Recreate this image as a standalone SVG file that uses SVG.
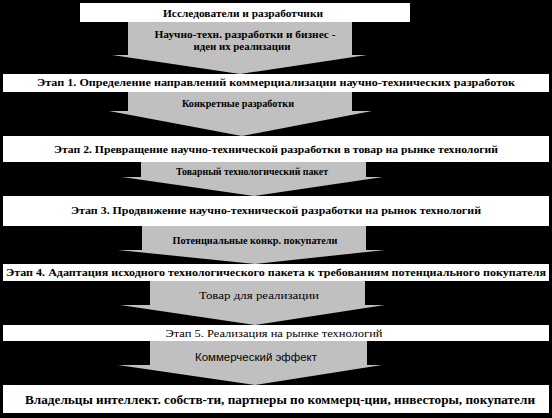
<svg xmlns="http://www.w3.org/2000/svg" width="552" height="418" viewBox="0 0 552 418" font-family="Liberation Serif, Times New Roman, DejaVu Serif, serif">
<style>
.box{fill:#ffffff}
.arr{fill:#c0c0c0}
.t{font-weight:bold;font-size:10px;fill:#000;text-anchor:middle}
.n{font-weight:normal}
.big{font-size:12px}
</style>
<rect x="0" y="0" width="552" height="418" fill="#000"/>
<g id="connectors">
<g id="a1"><polygon class="arr" points="128,22 352,22 352,55 367,55 240,74 112,55 128,55"/>
<text class="t" x="245" y="38" textLength="181" lengthAdjust="spacingAndGlyphs">Научно-техн. разработки и бизнес -</text>
<text class="t" x="242" y="50" textLength="97" lengthAdjust="spacingAndGlyphs">идеи их реализации</text></g>
<g id="a2"><polygon class="arr" points="128,92 352,92 352,111 372,111 242,136 109,111 128,111"/>
<text class="t" x="238" y="107" textLength="112" lengthAdjust="spacingAndGlyphs">Конкретные разработки</text></g>
<g id="a3"><polygon class="arr" points="141,162 366,162 366,177 383,177 254,196 122,177 141,177"/>
<text class="t" x="252" y="175" textLength="152" lengthAdjust="spacingAndGlyphs">Товарный технологический пакет</text></g>
<g id="a4"><polygon class="arr" points="142,226 366,226 366,250 385,250 255,264 118,250 142,250"/>
<text class="t" x="255" y="244" textLength="165" lengthAdjust="spacingAndGlyphs">Потенциальные конкр. покупатели</text></g>
<g id="a5"><polygon class="arr" points="150,281 365,281 365,305 385,305 255,325 120,305 150,305"/>
<text class="t n" x="259" y="299" textLength="120" lengthAdjust="spacingAndGlyphs">Товар для реализации</text></g>
<g id="a6"><polygon class="arr" points="150,341 367,341 367,365 382,365 255,385 118,365 150,365"/>
<text class="t n" x="256" y="361" font-size="11" font-family="Liberation Sans, Arial, sans-serif" textLength="122" lengthAdjust="spacingAndGlyphs">Коммерческий эффект</text></g>
</g>
<g id="n0"><rect class="box" x="80" y="3" width="330" height="19"/>
<text class="t" x="243" y="17" textLength="160" lengthAdjust="spacingAndGlyphs">Исследователи и разработчики</text></g>
<g id="n1"><rect class="box" x="3" y="74" width="546" height="18"/>
<text class="t" x="276" y="86" textLength="478" lengthAdjust="spacingAndGlyphs">Этап 1. Определение направлений коммерциализации научно-технических разработок</text></g>
<g id="n2"><rect class="box" x="3" y="136" width="546" height="26"/>
<text class="t" x="276" y="153" textLength="444" lengthAdjust="spacingAndGlyphs">Этап 2. Превращение научно-технической разработки в товар на рынке технологий</text></g>
<g id="n3"><rect class="box" x="3" y="196" width="546" height="30"/>
<text class="t" x="276" y="214" textLength="410" lengthAdjust="spacingAndGlyphs">Этап 3. Продвижение научно-технической разработки на рынок технологий</text></g>
<g id="n4"><rect class="box" x="3" y="264" width="546" height="17"/>
<text class="t" x="276" y="276" textLength="540" lengthAdjust="spacingAndGlyphs">Этап 4. Адаптация исходного технологического пакета к требованиям потенциального покупателя</text></g>
<g id="n5"><rect class="box" x="3" y="325" width="546" height="16"/>
<text class="t n" x="274" y="337" textLength="217" lengthAdjust="spacingAndGlyphs">Этап 5. Реализация на рынке технологий</text></g>
<g id="n6"><rect class="box" x="3" y="385" width="546" height="28"/>
<text class="t big" x="280" y="404" textLength="510" lengthAdjust="spacingAndGlyphs">Владельцы интеллект. собств-ти, партнеры по коммерц-ции, инвесторы, покупатели</text></g>
</svg>
